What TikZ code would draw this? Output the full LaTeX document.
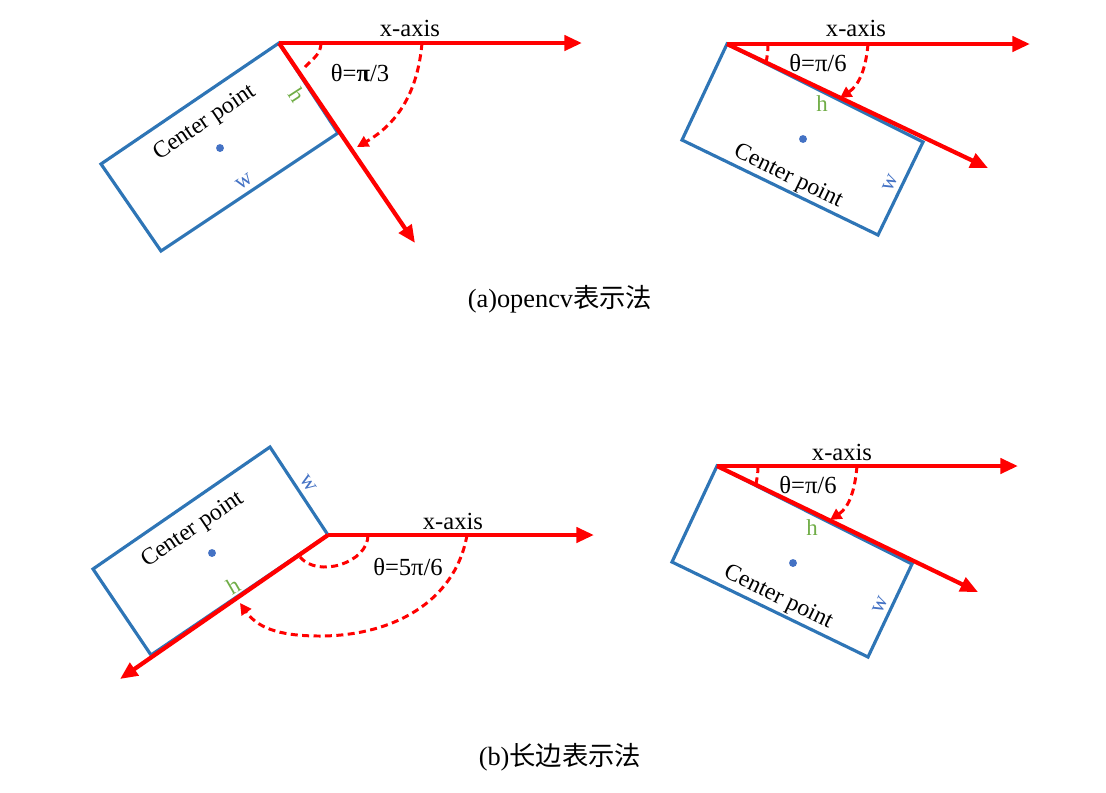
\documentclass[tikz,border=0pt]{standalone}
\usepackage{fontspec}
\setmainfont{Liberation Serif}
\newfontfamily\cjk{Noto Sans CJK SC}
\usepackage{xcolor}
\usepackage{tikz}
\usetikzlibrary{arrows.meta}
\definecolor{boxblue}{RGB}{46,117,182}
\definecolor{dotblue}{RGB}{68,114,196}
\definecolor{hgreen}{RGB}{112,173,71}

\begin{document}
\begin{tikzpicture}[x=0.02cm, y=-0.02cm,
    box/.style={draw=boxblue, line width=1.8pt},
    axis/.style={-{Triangle[length=10pt,width=8.5pt]}, red, line width=2.4pt},
    turn/.style={-{Triangle[length=6.5pt,width=6.5pt]}, red, line width=1.7pt, dash pattern=on 4pt off 2.5pt},
    tick/.style={red, line width=1.7pt, dash pattern=on 4pt off 2.5pt},
    lbl/.style={font=\fontsize{14}{16}\selectfont, inner sep=0pt},
    cpt/.style={font=\fontsize{13.5}{15}\selectfont, inner sep=0pt},
    hlab/.style={text=hgreen, font=\fontsize{13}{15}\selectfont, inner sep=0pt},
    wlab/.style={text=dotblue, font=\fontsize{13}{15}\selectfont, inner sep=0pt},
    ctr/.style={circle, fill=dotblue, inner sep=0pt, minimum size=4.5pt},
    captxt/.style={font=\fontsize{15}{18}\selectfont, inner sep=0pt}
]
    \useasboundingbox (0,0) rectangle (1106,792);

    \coordinate (o1)  at (279,43);
    \coordinate (c1b) at (338,133);
    \coordinate (c1c) at (161,251);
    \coordinate (c1d) at (101,164);
    \coordinate (x1)  at (582,43);
    \coordinate (h1e) at (415,243);
    \coordinate (s1a) at (321,43);
    \coordinate (e1a) at (305,67);
    \coordinate (s1b) at (422,43);
    \coordinate (e1b) at (357,147);
    \draw[box] (o1) -- (c1b) -- (c1c) -- (c1d) -- cycle;
    \draw[axis] (o1) -- (x1);
    \draw[axis] (o1) -- (h1e);
    \draw[tick] (s1a) to[out=-90, in=47] (e1a);
    \draw[turn] (s1b) to[out=-95, in=30] (e1b);
    \node[lbl] (xlab1) at (410,28) {x-axis};
    \node[lbl] (th1)   at (360,73) {θ={\bfseries π}/3};
    \node[hlab, rotate=-57] (h1) at (297,95) {h};
    \node[wlab, rotate=34]  (w1) at (244,182) {w};
    \node[cpt, rotate=34]   (cp1) at (205,123) {Center point};
    \node[ctr] (dot1) at (220,148) {};

    \coordinate (o2)  at (727,44);
    \coordinate (c2b) at (923,142);
    \coordinate (c2c) at (878,235);
    \coordinate (c2d) at (682,140);
    \coordinate (x2)  at (1030,44);
    \coordinate (h2e) at (988,168);
    \coordinate (s2a) at (768,44);
    \coordinate (e2a) at (766,63);
    \coordinate (s2b) at (868,44);
    \coordinate (e2b) at (840,98);
    \draw[box] (o2) -- (c2b) -- (c2c) -- (c2d) -- cycle;
    \draw[axis] (o2) -- (x2);
    \draw[axis] (o2) -- (h2e);
    \draw[tick] (s2a) to[out=-90, in=80] (e2a);
    \draw[turn] (s2b) to[out=-95, in=34] (e2b);
    \node[lbl] (xlab2) at (856,28) {x-axis};
    \node[lbl] (th2)   at (818,63) {θ=π/6};
    \node[hlab] (h2) at (822,104) {h};
    \node[wlab, rotate=64]  (w2) at (890,183) {w};
    \node[cpt, rotate=-26]  (cp2) at (788,177) {Center point};
    \node[ctr] (dot2) at (803,139) {};

    \node[captxt] (capa) at (560,299) {(a)opencv{\cjk 表示法}};

    \coordinate (o3)  at (328,535);
    \coordinate (c3b) at (270,447);
    \coordinate (c3c) at (93,569);
    \coordinate (c3d) at (151,655);
    \coordinate (x3)  at (594,535);
    \coordinate (h3e) at (120,679);
    \coordinate (s3a) at (368,535);
    \coordinate (e3a) at (300,557);
    \coordinate (s3b) at (467,535);
    \coordinate (m3b) at (320,636);
    \coordinate (e3b) at (240,603);
    \draw[box] (o3) -- (c3b) -- (c3c) -- (c3d) -- cycle;
    \draw[axis] (o3) -- (x3);
    \draw[axis] (o3) -- (h3e);
    \draw[tick] (s3a) to[out=-90, in=-50] (e3a);
    \draw[turn] (s3b) to[out=-100, in=0] (m3b) to[out=180, in=-55] (e3b);
    \node[lbl] (xlab3) at (453,521) {x-axis};
    \node[lbl] (th3)   at (408,567) {θ=5π/6};
    \node[hlab, rotate=30]  (h3) at (233,586) {h};
    \node[wlab, rotate=-56] (w3) at (308,483) {w};
    \node[cpt, rotate=34]   (cp3) at (193,530) {Center point};
    \node[ctr] (dot3) at (212,553) {};

    \coordinate (o4)  at (717,466);
    \coordinate (c4b) at (912,564);
    \coordinate (c4c) at (868,657);
    \coordinate (c4d) at (672,562);
    \coordinate (x4)  at (1018,466);
    \coordinate (h4e) at (978,592);
    \coordinate (s4a) at (758,466);
    \coordinate (e4a) at (756,484);
    \coordinate (s4b) at (857,466);
    \coordinate (e4b) at (830,520);
    \draw[box] (o4) -- (c4b) -- (c4c) -- (c4d) -- cycle;
    \draw[axis] (o4) -- (x4);
    \draw[axis] (o4) -- (h4e);
    \draw[tick] (s4a) to[out=-90, in=80] (e4a);
    \draw[turn] (s4b) to[out=-95, in=34] (e4b);
    \node[lbl] (xlab4) at (842,452) {x-axis};
    \node[lbl] (th4)   at (808,485) {θ=π/6};
    \node[hlab] (h4) at (812,528) {h};
    \node[wlab, rotate=64]  (w4) at (880,605) {w};
    \node[cpt, rotate=-26]  (cp4) at (778,598) {Center point};
    \node[ctr] (dot4) at (793,563) {};

    \node[captxt] (capb) at (560,757) {(b){\cjk 长边表示法}};
\end{tikzpicture}
\end{document}
